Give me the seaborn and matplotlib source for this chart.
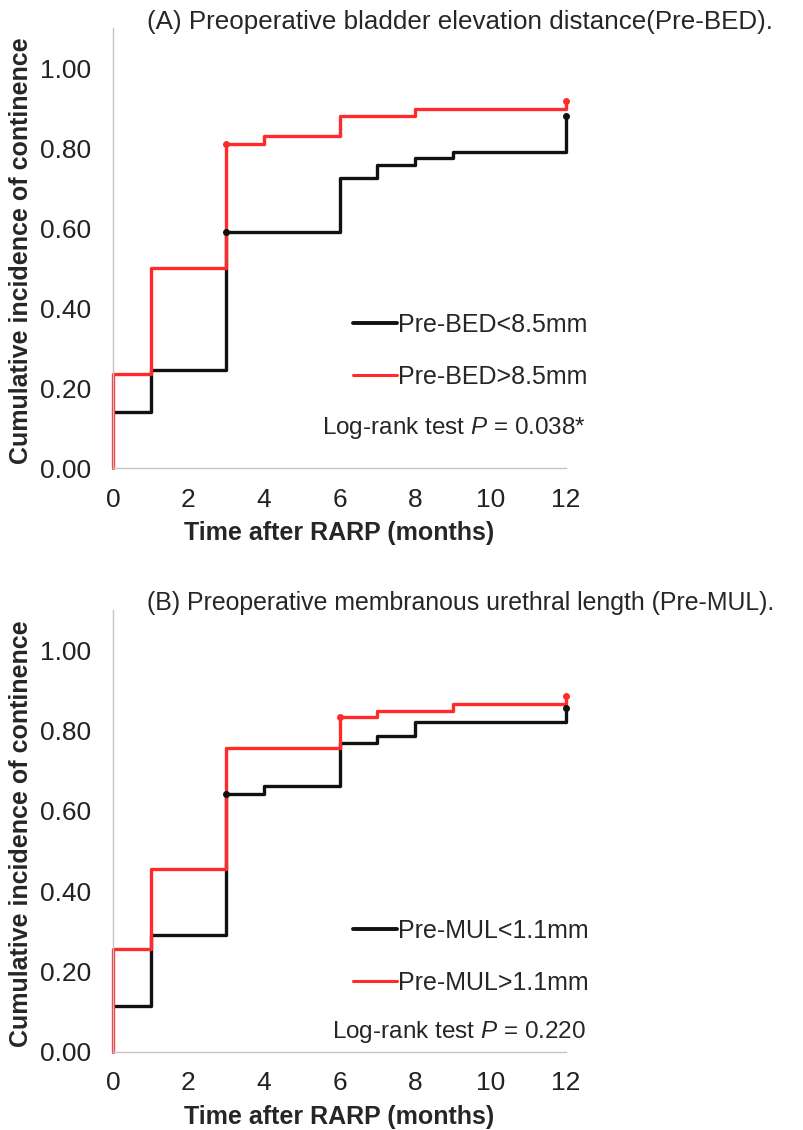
import matplotlib
matplotlib.use('Agg')
import matplotlib.pyplot as plt
import pandas as pd
import seaborn as sns
from matplotlib.lines import Line2D

# Data (cumulative incidence, step functions)
bed_low_t = [0, 1, 3, 6, 7, 8, 9, 12]
bed_low_v = [0.14, 0.245, 0.59, 0.725, 0.758, 0.775, 0.79, 0.88]
bed_high_t = [0, 0, 1, 3, 4, 6, 8, 12]
bed_high_v = [0.0, 0.235, 0.50, 0.81, 0.83, 0.88, 0.898, 0.918]

mul_low_t = [0, 1, 3, 4, 6, 7, 8, 12]
mul_low_v = [0.114, 0.29, 0.643, 0.662, 0.768, 0.786, 0.822, 0.857]
mul_high_t = [0, 0, 1, 3, 6, 7, 9, 12]
mul_high_v = [0.0, 0.257, 0.455, 0.757, 0.834, 0.849, 0.867, 0.885]

# censor marks (time, value)
bed_low_cens = ([3, 12], [0.59, 0.88])
bed_high_cens = ([3, 12], [0.81, 0.918])
mul_low_cens = ([3, 12], [0.643, 0.857])
mul_high_cens = ([6, 12], [0.834, 0.885])

bed_labels = ['Pre-BED<8.5mm', 'Pre-BED>8.5mm']
mul_labels = ['Pre-MUL<1.1mm', 'Pre-MUL>1.1mm']
titles = ['(A) Preoperative bladder elevation distance(Pre-BED).',
          '(B) Preoperative membranous urethral length (Pre-MUL).']
pvals = ['0.038*', '0.220']
x_ticks = [0, 2, 4, 6, 8, 10, 12]
y_ticks = [0.0, 0.2, 0.4, 0.6, 0.8, 1.0]

sns.set_style('white')
plt.rcParams['font.family'] = ['Liberation Sans', 'DejaVu Sans']
plt.rcParams['mathtext.fontset'] = 'custom'
plt.rcParams['mathtext.rm'] = 'Liberation Sans'
plt.rcParams['mathtext.it'] = 'Liberation Sans:italic'

BLACK = '#111111'
RED = '#ff2b2b'
SPINE = '#c4c4c4'

fig = plt.figure(figsize=(8.04, 11.3), dpi=100)
ax_a = fig.add_axes([113 / 804, 1 - 468.3 / 1130, 453 / 804, 440 / 1130])
ax_b = fig.add_axes([113 / 804, 1 - 1051.7 / 1130, 453 / 804, 441.7 / 1130])

panels = [
    (ax_a, bed_low_t, bed_low_v, bed_high_t, bed_high_v, bed_low_cens, bed_high_cens, bed_labels),
    (ax_b, mul_low_t, mul_low_v, mul_high_t, mul_high_v, mul_low_cens, mul_high_cens, mul_labels),
]

title_y = [1 - 22 / 1130, 1 - 603 / 1130]
title_size = [18.7, 17.9]
legend_y = [351, 957]
ptext_y = [428, 1032]

for i, (ax, lt, lv, ht, hv, lc, hc, labels) in enumerate(panels):
    df = pd.concat([
        pd.DataFrame({'time': lt, 'value': lv, 'group': labels[0]}),
        pd.DataFrame({'time': ht, 'value': hv, 'group': labels[1]}),
    ])
    # red drawn last so it sits on top of the black steps
    sns.lineplot(data=df, x='time', y='value', hue='group', hue_order=labels,
                 estimator=None, drawstyle='steps-post',
                 palette={labels[0]: BLACK, labels[1]: RED},
                 linewidth=2.4, legend=False, ax=ax, clip_on=False)
    ax.plot(lc[0], lc[1], 'o', color=BLACK, markersize=4, clip_on=False, zorder=5)
    ax.plot(hc[0], hc[1], 'o', color=RED, markersize=4, clip_on=False, zorder=5)

    ax.set_xlim(0, 12)
    ax.set_ylim(0, 1.1)
    ax.set_xticks(x_ticks)
    ax.set_yticks(y_ticks)
    ax.set_yticklabels([f'{v:.2f}' for v in y_ticks])
    for s in ['top', 'right']:
        ax.spines[s].set_visible(False)
    for s in ['left', 'bottom']:
        ax.spines[s].set_color(SPINE)
        ax.spines[s].set_linewidth(1.0)
    ax.tick_params(axis='x', direction='in', length=5, width=1, color=SPINE,
                   labelsize=19, pad=14, labelcolor='#222222')
    ax.tick_params(axis='y', direction='out', length=6, width=1, color=SPINE,
                   labelsize=19, pad=10, labelcolor='#222222')
    ax.set_xlabel('Time after RARP (months)', fontsize=18, fontweight='bold', labelpad=7)
    ax.set_ylabel('Cumulative incidence of continence', fontsize=18, fontweight='bold')
    ax.yaxis.set_label_coords(-0.176, 0.494)

    fig.text(147 / 804, title_y[i], titles[i], fontsize=title_size[i], ha='left', va='center')

    handles = [Line2D([], [], color=BLACK, linewidth=2.8),
               Line2D([], [], color=RED, linewidth=2.2)]
    fig.legend(handles, labels, loc='center left', frameon=False, fontsize=18,
               bbox_to_anchor=(341 / 804, 1 - legend_y[i] / 1130),
               handlelength=1.75, handletextpad=0.05, labelspacing=1.12, borderpad=0)
    fig.text(586 / 804, 1 - ptext_y[i] / 1130, f'Log-rank test $P$ = {pvals[i]}',
             fontsize=17.5, ha='right', va='center')

fig.savefig('out.png', dpi=100)
